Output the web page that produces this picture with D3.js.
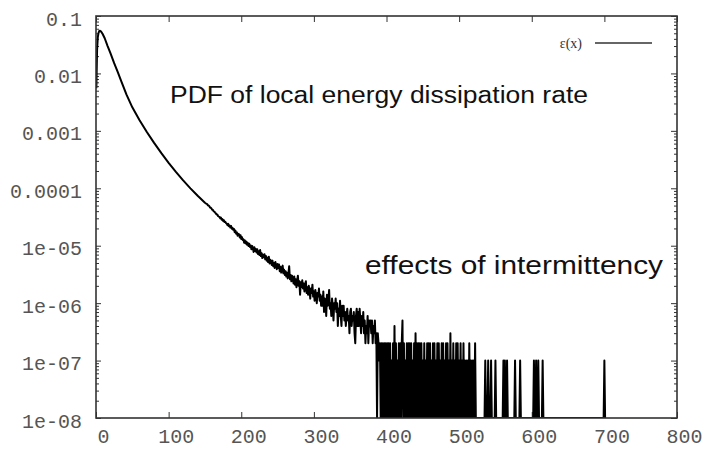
<!DOCTYPE html>
<html>
<head>
<meta charset="utf-8">
<script src="https://d3js.org/d3.v7.min.js"></script>
<style>
  body { margin: 0; background: #fff; }
  svg { display: block; }
</style>
</head>
<body>
<svg id="drawing_region"></svg>
<script>
// smooth part of the PDF
const headX = [0.5, 1.5, 2.5, 3.5, 4.5, 5.5, 7, 9, 12, 16, 20, 25, 30, 35, 42, 50,
  60, 70, 80, 90, 100, 110, 120, 130, 140, 150];
const headPdf = [0.0055, 0.026, 0.043, 0.051, 0.0548, 0.0555, 0.0535, 0.049, 0.041,
  0.030, 0.0224, 0.0151, 0.0105, 0.0072, 0.00427, 0.00257, 0.00153, 0.000955,
  0.000617, 0.000409, 0.000278, 0.000193, 0.000137, 9.98e-5, 7.4e-5, 5.6e-5];

// noisy part: samples per unit bin, one sample = 1e-7
const countUnit = 1e-7;
const countStart = 151;
const binCounts = [
  548, 539, 531, 509, 497, 489, 462, 458, 446, 421,
  418, 396, 392, 377, 366, 349, 351, 329, 322, 318,
  302, 309, 284, 290, 271, 279, 258, 262, 247, 243,
  228, 241, 219, 225, 207, 221, 198, 204, 189, 196,
  171, 183, 162, 170, 149, 161, 158, 139, 152, 131,
  141, 126, 129, 113, 124, 109, 118, 104, 112, 99,
  108, 95, 101, 87, 99, 92, 78, 94, 81, 88,
  76, 87, 72, 80, 69, 84, 66, 74, 61, 70,
  63, 71, 58, 66, 55, 62, 52, 64, 49, 57,
  53, 46, 55, 44, 50, 41, 52, 45, 39, 48,
  41, 47, 36, 43, 34, 40, 45, 33, 38, 31,
  36, 29, 34, 27, 33, 44, 26, 31, 24, 30,
  27, 22, 29, 21, 26, 19, 25, 30, 20, 24,
  14, 23, 19, 25, 18, 22, 16, 21, 24, 15,
  19, 14, 20, 17, 12, 18, 15, 21, 13, 16,
  11, 17, 14, 10, 15, 13, 18, 11, 14, 9,
  13, 9, 16, 7, 12, 11, 6, 14, 9, 11,
  17, 8, 10, 6, 12, 9, 5, 10, 8, 12,
  7, 10, 4, 8, 6, 11, 6, 4, 9, 6,
  9, 5, 7, 4, 6, 8, 5, 6, 3, 7,
  8, 4, 6, 5, 7, 3, 2, 6, 8, 4,
  7, 4, 8, 5, 3, 6, 4, 7, 3, 5,
  2, 4, 3, 6, 2, 5, 4, 5, 3, 5,
  2, 4, 3, 5, 2, 3, 0, 3, 2, 1,
  2, 0, 2, 0, 2, 0, 2, 0, 2, 0,
  2, 0, 2, 0, 2, 0, 1, 0, 2, 0,
  4, 0, 2, 0, 1, 0, 2, 0, 2, 0,
  2, 5, 0, 2, 0, 1, 0, 2, 0, 2,
  0, 2, 0, 2, 0, 1, 0, 2, 0, 3,
  0, 2, 0, 2, 0, 2, 0, 2, 0, 1,
  0, 2, 0, 1, 0, 2, 0, 2, 0, 2,
  0, 1, 0, 2, 0, 2, 0, 1, 0, 2,
  0, 2, 0, 1, 0, 2, 0, 2, 0, 1,
  0, 2, 0, 2, 0, 1, 0, 3, 0, 1,
  0, 2, 0, 1, 0, 2, 0, 2, 0, 1,
  0, 2, 0, 1, 0, 2, 0, 1, 0, 1,
  0, 1, 0, 2, 0, 1, 0, 1, 0, 1,
  0, 2, 0
];
// far tail: lone bins holding a single sample, all other bins empty
const spikeX = [536, 540, 544, 550, 561, 563, 566, 577, 584, 603, 606, 609, 615, 700];

const xTicks = [0, 100, 200, 300, 400, 500, 600, 700, 800];
const yTicks = [0.1, 0.01, 0.001, 0.0001, 1e-5, 1e-6, 1e-7, 1e-8];
const yTickLabels = ["0.1", "0.01", "0.001", "0.0001", "1e-05", "1e-06", "1e-07", "1e-08"];
const legendLabel = "\u03b5(x)";
const title = "PDF of local energy dissipation rate";
const note = "effects of intermittency";

// build the series
let series = headX.map((x, i) => ({ x: x, p: headPdf[i] }));
binCounts.forEach((c, i) => series.push({ x: countStart + i, p: c * countUnit }));
const lastBin = countStart + binCounts.length;
for (let x = lastBin; x <= d3.max(spikeX) + 1; x++) {
  series.push({ x: x, p: spikeX.includes(x) ? countUnit : 0 });
}

class PdfPlot {
  constructor(config, data) {
    this.config = config;
    this.data = data;
    this.init();
  }

  init() {
    let self = this;
    self.svg = d3.select(self.config.parent)
      .attr("width", self.config.width)
      .attr("height", self.config.height);
    self.svg.append("rect")
      .attr("width", self.config.width)
      .attr("height", self.config.height)
      .attr("fill", "#fff");

    self.inner_width = self.config.width - self.config.margin.left - self.config.margin.right;
    self.inner_height = self.config.height - self.config.margin.top - self.config.margin.bottom;

    self.chart = self.svg.append("g")
      .attr("transform", `translate(${self.config.margin.left}, ${self.config.margin.top})`);

    self.xscale = d3.scaleLinear().domain([0, 800]).range([0, self.inner_width]);
    self.yscale = d3.scaleLog().domain([1e-8, 0.1]).range([self.inner_height, 0]);
  }

  render() {
    let self = this;
    const W = self.inner_width, H = self.inner_height;
    const tickColor = "#333";

    // minor log ticks 2..9 in each decade
    const minors = [];
    for (let e = -8; e < -1; e++) {
      for (let m = 2; m <= 9; m++) minors.push(m * Math.pow(10, e));
    }

    const styleAxis = (g) => {
      g.select(".domain").remove();
      g.selectAll("line").attr("stroke", tickColor).attr("stroke-width", 1);
      g.selectAll("text")
        .attr("font-family", "'Liberation Mono', 'DejaVu Sans Mono', monospace")
        .attr("font-size", "20px")
        .attr("fill", "#555");
    };

    // left
    self.chart.append("g")
      .call(d3.axisLeft(self.yscale).tickValues(minors).tickSizeInner(-3).tickSizeOuter(0).tickFormat(""))
      .call(styleAxis);
    self.chart.append("g")
      .call(d3.axisLeft(self.yscale).tickValues(yTicks).tickSizeInner(-5).tickSizeOuter(0)
        .tickPadding(14).tickFormat((d, i) => yTickLabels[i]))
      .call(styleAxis)
      .selectAll("text").attr("dy", "0.45em");

    // right
    self.chart.append("g")
      .attr("transform", `translate(${W}, 0)`)
      .call(d3.axisRight(self.yscale).tickValues(minors).tickSizeInner(-3).tickSizeOuter(0).tickFormat(""))
      .call(styleAxis);
    self.chart.append("g")
      .attr("transform", `translate(${W}, 0)`)
      .call(d3.axisRight(self.yscale).tickValues(yTicks).tickSizeInner(-6).tickSizeOuter(0).tickFormat(""))
      .call(styleAxis);

    // bottom
    self.chart.append("g")
      .attr("transform", `translate(0, ${H})`)
      .call(d3.axisBottom(self.xscale).tickValues(xTicks).tickSizeInner(-6).tickSizeOuter(0).tickPadding(11))
      .call(styleAxis)
      .selectAll("text").attr("dx", 7);

    // top
    self.chart.append("g")
      .call(d3.axisTop(self.xscale).tickValues(xTicks).tickSizeInner(-6).tickSizeOuter(0).tickFormat(""))
      .call(styleAxis);

    // data
    self.chart.append("clipPath").attr("id", "plot-clip")
      .append("rect").attr("width", W).attr("height", H);

    const line = d3.line()
      .x((d) => self.xscale(d.x))
      .y((d) => (d.p > 0 ? self.yscale(d.p) : H));

    self.chart.append("path")
      .datum(self.data)
      .attr("clip-path", "url(#plot-clip)")
      .attr("fill", "none")
      .attr("stroke", "#000")
      .attr("stroke-width", 2)
      .attr("stroke-linejoin", "round")
      .attr("d", line);

    // frame
    self.chart.append("rect")
      .attr("width", W)
      .attr("height", H)
      .attr("fill", "none")
      .attr("stroke", "#333")
      .attr("stroke-width", 1.6);

    // legend
    self.chart.append("text")
      .attr("x", 486)
      .attr("y", 32)
      .attr("text-anchor", "end")
      .attr("font-family", "'Liberation Serif', serif")
      .attr("font-size", "14px")
      .attr("fill", "#333")
      .text(legendLabel);
    self.chart.append("line")
      .attr("x1", 499).attr("x2", 556)
      .attr("y1", 27).attr("y2", 27)
      .attr("stroke", "#333")
      .attr("stroke-width", 1.6);

    // annotations
    self.chart.append("text")
      .attr("x", 74)
      .attr("y", 87)
      .attr("font-family", "'Liberation Sans', Arial, sans-serif")
      .attr("font-size", "23.5px")
      .attr("textLength", 418)
      .attr("lengthAdjust", "spacingAndGlyphs")
      .attr("fill", "#111")
      .text(title);
    self.chart.append("text")
      .attr("x", 269)
      .attr("y", 258)
      .attr("font-family", "'Liberation Sans', Arial, sans-serif")
      .attr("font-size", "25.4px")
      .attr("textLength", 298)
      .attr("lengthAdjust", "spacingAndGlyphs")
      .attr("fill", "#111")
      .text(note);
  }
}

const config = {
  parent: "#drawing_region",
  width: 704,
  height: 449,
  margin: { top: 16, right: 27, bottom: 31, left: 96 },
};

const pdfPlot = new PdfPlot(config, series);
pdfPlot.render();
</script>
</body>
</html>
